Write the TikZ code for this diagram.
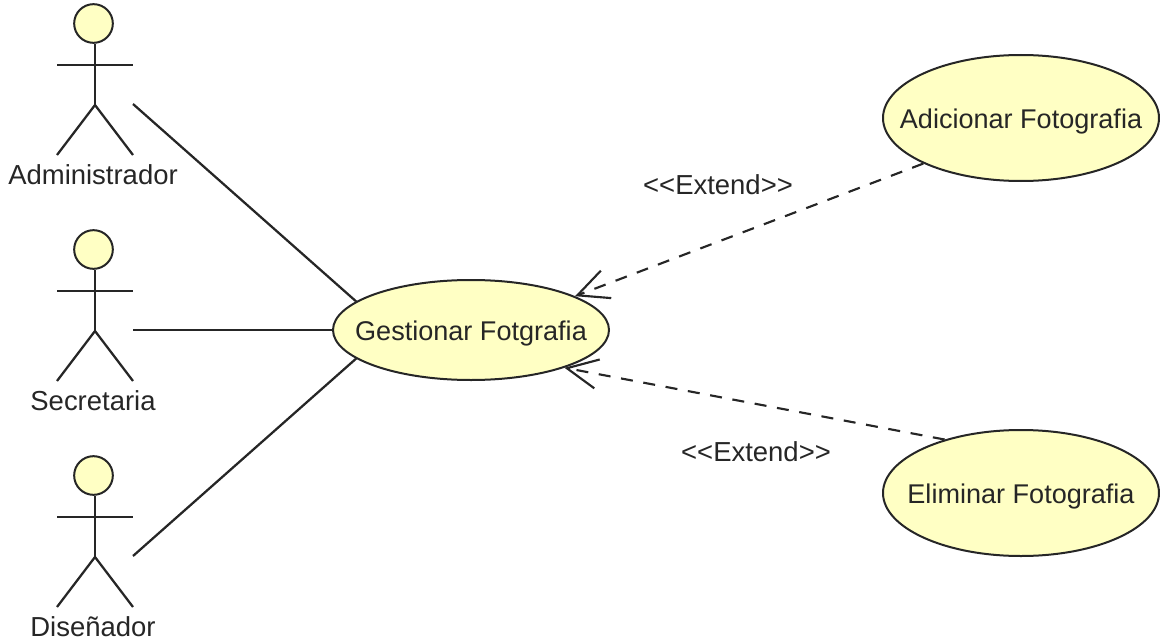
\documentclass[tikz,border=0pt]{standalone}
\usepackage{fontspec}
\setmainfont{Liberation Sans}
\usetikzlibrary{shapes.geometric,arrows.meta}
\definecolor{usefill}{HTML}{FFFFC4}
\definecolor{uselabel}{HTML}{262626}
\newcommand{\usehigh}{94.5pt}
\newcommand{\usetext}[1]{\raisebox{-7.6pt}[0pt][0pt]{\makebox[0pt]{#1}}}
\tikzset{
usecase/.style={ellipse,draw=black!85,fill=usefill,line width=1.5pt,minimum width=207pt,minimum height=\usehigh,inner sep=0pt,text=uselabel,font=\fontsize{20.3}{24}\selectfont},
actorhead/.style={circle,draw=black!85,fill=usefill,line width=1.5pt,minimum size=29pt,inner sep=0pt},
actorname/.style={text=uselabel,font=\fontsize{20.6}{24}\selectfont},
limb/.style={line width=1.7pt,black!85},
assoc/.style={line width=1.7pt,black!85},
extendline/.style={line width=1.6pt,black!85,dash pattern=on 9pt off 8pt,-{Straight Barb[length=23pt,width=22pt,line width=1.6pt]}}
}
\begin{document}
\begin{tikzpicture}[x=0.75pt,y=-0.75pt]
\useasboundingbox (0,0) rectangle (1160,642);

\foreach \who/\off/\tag in {admin/0/Administrador,secre/226/Secretaria,disen/452/Diseñador}
{
\coordinate (\who-hip) at (95,105+\off);
\coordinate (\who-larm) at (57,65+\off);
\coordinate (\who-rarm) at (133,65+\off);
\coordinate (\who-lfoot) at (57,155+\off);
\coordinate (\who-rfoot) at (133,155+\off);
\coordinate (\who-link) at (133,104+\off);
\node [actorhead] (\who-head) at (93.5,23.5+\off) {};
\draw [limb] (\who-hip |- \who-head.south) -- (\who-hip);
\draw [limb] (\who-larm) -- (\who-rarm);
\draw [limb] (\who-lfoot) -- (\who-hip) -- (\who-rfoot);
\node [actorname] (\who-name) at (93,175+\off) {\tag};
}

\node [usecase,minimum height=75pt] (gestionar) at (471,330) {\usetext{Gestionar Fotgrafia}};
\node [usecase] (adicionar) at (1021,118) {\usetext{Adicionar Fotografia}};
\node [usecase] (eliminar) at (1021,493) {\usetext{Eliminar Fotografia}};

\draw [assoc] (admin-link) -- (gestionar.166);
\draw [assoc] (secre-link) -- (gestionar.180);
\draw [assoc] (disen-link) -- (gestionar.194);

\draw [extendline] (adicionar.205) -- (gestionar.18);
\draw [extendline] (eliminar.145) -- (gestionar.-22);

\node [actorname] (extendup) at (718,185) {<{}<Extend>{}>};
\node [actorname] (extenddown) at (756,452) {<{}<Extend>{}>};
\end{tikzpicture}
\end{document}
